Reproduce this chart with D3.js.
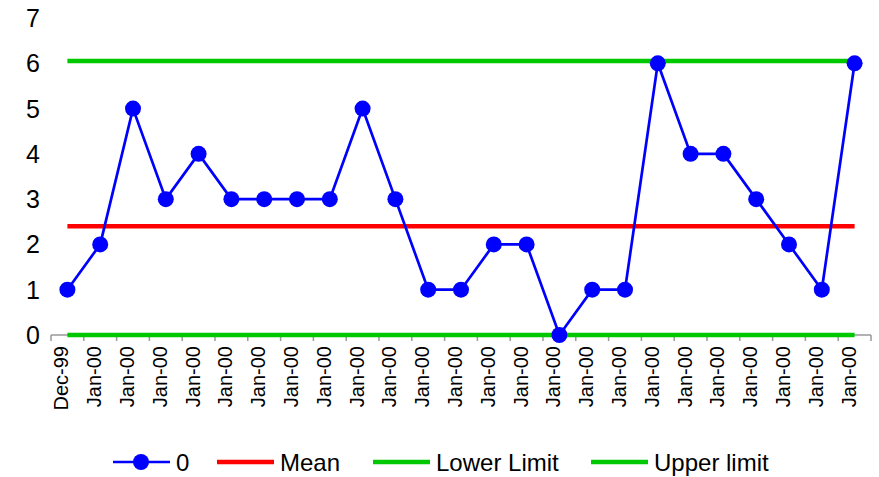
<!DOCTYPE html>
<html>
<head>
<meta charset="utf-8">
<script src="https://cdn.jsdelivr.net/npm/d3@7"></script>
<style>
  body { margin: 0; background: #fff; }
  svg { display: block; font-family: Arial, "Liberation Sans", sans-serif; }
</style>
</head>
<body>
<svg id="chart" width="879" height="477"></svg>
<script>
// Control chart: observed counts with mean and control limits
const categories = ["Dec-99"].concat(d3.range(24).map(() => "Jan-00"));
const values = [1, 2, 5, 3, 4, 3, 3, 3, 3, 5, 3, 1, 1, 2, 2, 0, 1, 1, 6, 4, 4, 3, 2, 1, 6];
const meanValue = 2.4;
const lowerLimit = 0;
const upperLimit = 6.05;
const yTicks = [0, 1, 2, 3, 4, 5, 6, 7];
const legendLabels = ["0", "Mean", "Lower Limit", "Upper limit"];

const svg = d3.select("#chart");
const plot = { left: 51, right: 871, top: 18, bottom: 335 };

const keys = categories.map((c, i) => i);
const x = d3.scaleBand().domain(keys).range([plot.left, plot.right]);
const y = d3.scaleLinear().domain([0, 7]).range([plot.bottom, plot.top]);
const cx = i => x(i) + x.bandwidth() / 2;

// Category axis with boundary ticks
const xAxisG = svg.append("g").attr("transform", `translate(0,${plot.bottom})`);
xAxisG.append("line")
  .attr("x1", plot.left).attr("x2", plot.right)
  .attr("stroke", "#999").attr("stroke-width", 1.5);
xAxisG.selectAll("line.tick")
  .data(d3.range(categories.length + 1))
  .join("line").attr("class", "tick")
  .attr("x1", i => plot.left + i * x.bandwidth())
  .attr("x2", i => plot.left + i * x.bandwidth())
  .attr("y1", 0).attr("y2", 6)
  .attr("stroke", "#999").attr("stroke-width", 1.5);
xAxisG.selectAll("text")
  .data(categories)
  .join("text")
  .attr("transform", (d, i) => `translate(${cx(i) + 1},11) rotate(-90)`)
  .attr("text-anchor", "end")
  .attr("font-size", 20)
  .attr("fill", "#000")
  .text(d => d);

// Value axis labels (no axis line)
svg.append("g").selectAll("text")
  .data(yTicks)
  .join("text")
  .attr("x", 40)
  .attr("y", d => y(d))
  .attr("dy", "0.36em")
  .attr("text-anchor", "end")
  .attr("font-size", 25)
  .attr("fill", "#000")
  .text(d => d);

// Reference lines
const refLines = [
  { v: lowerLimit, color: "#00c800" },
  { v: upperLimit, color: "#00c800" },
  { v: meanValue, color: "#ff0000" }
];
svg.append("g").selectAll("line")
  .data(refLines)
  .join("line")
  .attr("x1", cx(0)).attr("x2", cx(values.length - 1))
  .attr("y1", d => y(d.v)).attr("y2", d => y(d.v))
  .attr("stroke", d => d.color)
  .attr("stroke-width", 4.5);

// Data series
const line = d3.line().x((d, i) => cx(i)).y(d => y(d));
svg.append("path")
  .datum(values)
  .attr("d", line)
  .attr("fill", "none")
  .attr("stroke", "#0000ff")
  .attr("stroke-width", 2.7);
svg.append("g").selectAll("circle")
  .data(values)
  .join("circle")
  .attr("cx", (d, i) => cx(i))
  .attr("cy", d => y(d))
  .attr("r", 8)
  .attr("fill", "#0000ff");

// Legend
const legendItems = [
  { label: legendLabels[0], color: "#0000ff", width: 2.7, marker: true, x: 113 },
  { label: legendLabels[1], color: "#ff0000", width: 4.5, marker: false, x: 217 },
  { label: legendLabels[2], color: "#00c800", width: 4.5, marker: false, x: 373 },
  { label: legendLabels[3], color: "#00c800", width: 4.5, marker: false, x: 591 }
];
const ly = 462;
const lg = svg.append("g").selectAll("g")
  .data(legendItems)
  .join("g")
  .attr("transform", d => `translate(${d.x},${ly})`);
lg.append("line")
  .attr("x1", 0).attr("x2", 57)
  .attr("stroke", d => d.color)
  .attr("stroke-width", d => d.width);
lg.filter(d => d.marker).append("circle")
  .attr("cx", 28).attr("r", 8).attr("fill", d => d.color);
lg.append("text")
  .attr("x", 63)
  .attr("dy", "0.36em")
  .attr("font-size", 24)
  .attr("fill", "#000")
  .text(d => d.label);
</script>
</body>
</html>
